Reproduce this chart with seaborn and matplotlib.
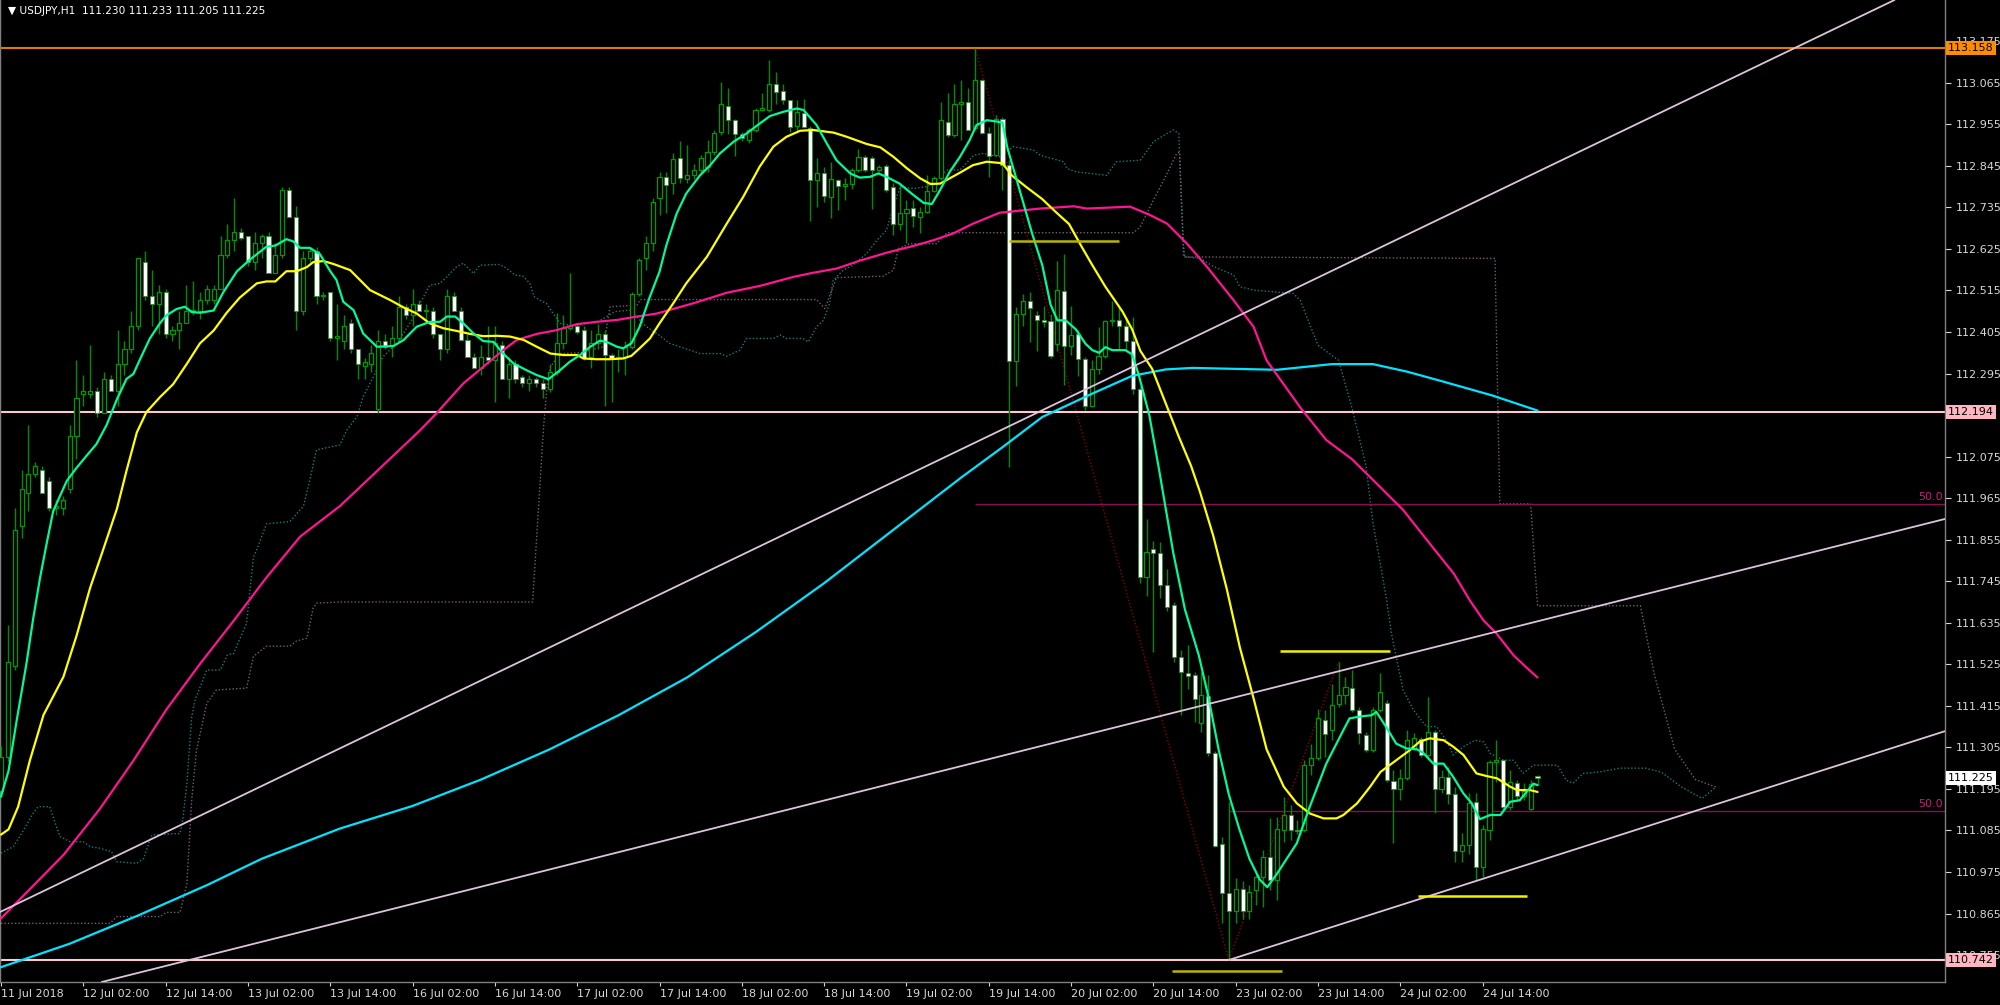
import numpy as np
import pandas as pd
import matplotlib
matplotlib.use("Agg")
import matplotlib.pyplot as plt
import matplotlib.transforms as mtransforms
import seaborn as sns

# USDJPY H1, bar 0 = 11 Jul 14:00 (one bar per trading hour)
opens = [
    111.19, 111.28, 111.52, 111.89, 111.98, 112.03, 112.04, 112.01, 111.94, 111.94,
    111.99, 112.13, 112.24, 112.24, 112.25, 112.19, 112.28, 112.25, 112.32, 112.36,
    112.42, 112.59, 112.50, 112.48, 112.51, 112.40, 112.41, 112.43, 112.46, 112.46,
    112.49, 112.49, 112.52, 112.61, 112.65, 112.67, 112.66, 112.59, 112.64, 112.66,
    112.56, 112.61, 112.78, 112.71, 112.46, 112.60, 112.62, 112.50, 112.51, 112.39,
    112.38, 112.43, 112.36, 112.315, 112.32, 112.20, 112.38, 112.37, 112.39, 112.47,
    112.45, 112.48, 112.46, 112.46, 112.40, 112.36, 112.50, 112.46, 112.385, 112.34,
    112.31, 112.34, 112.33, 112.37, 112.28, 112.32, 112.285, 112.27, 112.28, 112.27,
    112.255, 112.30, 112.375, 112.415, 112.42, 112.41, 112.34, 112.375, 112.40, 112.345,
    112.335, 112.34, 112.365, 112.505, 112.60, 112.64, 112.76, 112.815, 112.80, 112.865,
    112.81, 112.82, 112.834, 112.843, 112.882, 112.935, 113.003, 112.966, 112.93, 112.913,
    112.94, 112.993, 112.993, 113.063, 113.044, 113.019, 112.95, 112.984, 112.944, 112.807,
    112.825, 112.763, 112.807, 112.792, 112.797, 112.834, 112.869, 112.867, 112.834, 112.844,
    112.79, 112.69, 112.719, 112.734, 112.71, 112.722, 112.779, 112.812, 112.962, 112.926,
    113.01, 113.013, 112.944, 113.072, 112.931, 112.873, 112.97, 112.847, 112.327, 112.454,
    112.488, 112.45, 112.436, 112.434, 112.374, 112.514, 112.369, 112.401, 112.333, 112.209,
    112.308, 112.341, 112.434, 112.436, 112.421, 112.382, 112.253, 111.757, 111.83, 111.821,
    111.736, 111.681, 111.544, 111.502, 111.496, 111.37, 111.441, 111.291, 111.05, 110.92,
    110.872, 110.93, 110.872, 110.927, 110.962, 111.015, 110.953, 111.086, 111.126, 111.086,
    111.086, 111.258, 111.276, 111.377, 111.351, 111.419, 111.443, 111.461, 111.404, 111.337,
    111.298, 111.404, 111.423, 111.217, 111.196, 111.223, 111.302, 111.326, 111.285, 111.346,
    111.196, 111.227, 111.181, 111.031, 111.046, 111.161, 110.989, 111.086, 111.267, 111.271,
    111.148, 111.211, 111.176, 111.143, 111.23,
]
highs = [
    111.31, 111.63, 111.94, 112.04, 112.16, 112.06, 112.05, 112.02, 111.96, 111.97,
    112.16, 112.33, 112.29, 112.37, 112.26, 112.30, 112.29, 112.41, 112.38, 112.46,
    112.60, 112.62, 112.57, 112.53, 112.52, 112.42, 112.46, 112.53, 112.54, 112.51,
    112.53, 112.53, 112.66, 112.69, 112.76, 112.68, 112.66, 112.67, 112.665, 112.67,
    112.64, 112.79, 112.79, 112.74, 112.62, 112.63, 112.63, 112.51, 112.51, 112.48,
    112.45, 112.44, 112.36, 112.335, 112.37, 112.41, 112.40, 112.42, 112.50, 112.48,
    112.52, 112.49, 112.48, 112.47, 112.40, 112.52, 112.51, 112.47, 112.40, 112.35,
    112.37, 112.42, 112.42, 112.38, 112.34, 112.33, 112.29, 112.29, 112.285, 112.28,
    112.32, 112.455, 112.45, 112.56, 112.43, 112.42, 112.41, 112.425, 112.41, 112.35,
    112.36, 112.38, 112.51, 112.60, 112.66, 112.76, 112.83, 112.83, 112.878, 112.91,
    112.90, 112.85, 112.874, 112.913, 112.94, 113.068, 113.05, 112.97, 112.935, 112.945,
    112.997, 113.037, 113.125, 113.094, 113.063, 113.02, 113.019, 113.023, 112.95, 112.865,
    112.843, 112.856, 112.81, 112.812, 112.84, 112.891, 112.875, 112.87, 112.847, 112.851,
    112.80, 112.80, 112.754, 112.754, 112.737, 112.82, 112.818, 113.015, 113.037, 113.063,
    113.072, 113.05, 113.158, 113.074, 112.948, 112.979, 112.975, 112.86, 112.47, 112.506,
    112.511, 112.46, 112.473, 112.454, 112.592, 112.611, 112.473, 112.41, 112.34, 112.331,
    112.417, 112.436, 112.488, 112.473, 112.445, 112.445, 112.26, 111.909, 111.852, 111.848,
    111.777, 111.69, 111.563, 111.577, 111.505, 111.505, 111.496, 111.295, 111.068, 111.16,
    110.96, 110.95, 110.94, 110.975, 111.033, 111.117, 111.121, 111.174, 111.152, 111.112,
    111.271, 111.315, 111.408, 111.404, 111.474, 111.532, 111.492, 111.51, 111.413, 111.346,
    111.413, 111.501, 111.43, 111.245, 111.249, 111.351, 111.342, 111.333, 111.439, 111.351,
    111.245, 111.254, 111.2, 111.077, 111.183, 111.183, 111.099, 111.271, 111.324, 111.273,
    111.245, 111.218, 111.21, 111.218, 111.233,
]
lows = [
    111.17, 111.27, 111.51, 111.86, 111.93, 112.02, 111.98, 111.93, 111.92, 111.92,
    111.98, 112.07, 112.21, 112.23, 112.18, 112.19, 112.25, 112.21, 112.29, 112.35,
    112.41, 112.49, 112.42, 112.40, 112.39, 112.38, 112.36, 112.43, 112.45, 112.44,
    112.48, 112.48, 112.52, 112.60, 112.62, 112.65, 112.58, 112.57, 112.60, 112.56,
    112.56, 112.60, 112.71, 112.41, 112.45, 112.59, 112.48, 112.49, 112.38, 112.33,
    112.36, 112.35, 112.28, 112.28, 112.30, 112.19, 112.36, 112.34, 112.38, 112.44,
    112.42, 112.46, 112.44, 112.39, 112.33, 112.35, 112.46, 112.38, 112.34, 112.31,
    112.29, 112.32, 112.22, 112.28, 112.23, 112.27, 112.26, 112.25, 112.26, 112.23,
    112.245, 112.29, 112.36, 112.41, 112.40, 112.33, 112.31, 112.36, 112.21, 112.22,
    112.30, 112.29, 112.36, 112.50, 112.57, 112.62, 112.715, 112.72, 112.77, 112.80,
    112.80, 112.81, 112.825, 112.83, 112.873, 112.926, 112.93, 112.87, 112.91, 112.905,
    112.935, 112.99, 112.988, 113.01, 113.01, 112.935, 112.935, 112.944, 112.70, 112.737,
    112.75, 112.706, 112.728, 112.754, 112.785, 112.83, 112.83, 112.73, 112.83, 112.776,
    112.662, 112.675, 112.64, 112.684, 112.666, 112.719, 112.776, 112.807, 112.922, 112.922,
    112.913, 112.94, 112.94, 112.93, 112.816, 112.87, 112.78, 112.048, 112.261, 112.421,
    112.379, 112.355, 112.417, 112.336, 112.355, 112.265, 112.345, 112.289, 112.199, 112.206,
    112.294, 112.336, 112.42, 112.36, 112.355, 112.242, 111.74, 111.707, 111.558, 111.70,
    111.667, 111.53, 111.392, 111.459, 111.373, 111.345, 111.283, 111.04, 110.84, 110.742,
    110.84, 110.85, 110.85, 110.887, 110.883, 110.927, 110.90, 111.055, 111.059, 111.075,
    111.082, 111.232, 111.271, 111.28, 111.324, 111.412, 111.421, 111.40, 111.315, 111.293,
    111.293, 111.399, 111.214, 111.051, 111.165, 111.218, 111.298, 111.28, 111.28, 111.13,
    111.183, 111.156, 111.002, 111.002, 111.024, 110.953, 110.962, 111.06, 111.214, 111.143,
    111.139, 111.165, 111.165, 111.139, 111.205,
]
closes = [
    111.28, 111.53, 111.88, 111.99, 112.03, 112.05, 111.98, 111.94, 111.94, 111.96,
    112.13, 112.23, 112.25, 112.25, 112.19, 112.28, 112.25, 112.32, 112.36, 112.42,
    112.60, 112.50, 112.48, 112.51, 112.40, 112.41, 112.43, 112.46, 112.46, 112.49,
    112.52, 112.52, 112.61, 112.65, 112.67, 112.655, 112.59, 112.64, 112.66, 112.56,
    112.61, 112.78, 112.71, 112.46, 112.60, 112.62, 112.50, 112.50, 112.39, 112.39,
    112.42, 112.36, 112.32, 112.325, 112.35, 112.38, 112.365, 112.39, 112.47, 112.45,
    112.48, 112.46, 112.46, 112.40, 112.36, 112.50, 112.46, 112.385, 112.34, 112.31,
    112.34, 112.33, 112.375, 112.28, 112.32, 112.28, 112.27, 112.28, 112.27, 112.255,
    112.30, 112.375, 112.415, 112.42, 112.405, 112.335, 112.375, 112.40, 112.345, 112.335,
    112.34, 112.365, 112.505, 112.595, 112.64, 112.75, 112.815, 112.795, 112.863, 112.813,
    112.82, 112.835, 112.865, 112.882, 112.933, 113.008, 112.966, 112.929, 112.92, 112.94,
    112.993, 112.995, 113.063, 113.041, 113.019, 112.948, 112.988, 112.947, 112.807, 112.827,
    112.765, 112.809, 112.792, 112.796, 112.835, 112.869, 112.834, 112.834, 112.841, 112.782,
    112.69, 112.719, 112.732, 112.713, 112.722, 112.779, 112.812, 112.966, 112.926, 113.01,
    113.015, 112.941, 113.072, 112.932, 112.871, 112.97, 112.847, 112.327, 112.454, 112.488,
    112.469, 112.436, 112.431, 112.341, 112.516, 112.369, 112.398, 112.334, 112.209, 112.308,
    112.341, 112.434, 112.436, 112.421, 112.382, 112.253, 111.755, 111.822, 111.821, 111.734,
    111.677, 111.544, 111.504, 111.494, 111.433, 111.444, 111.29, 111.044, 110.919, 110.872,
    110.93, 110.872, 110.922, 110.962, 111.015, 110.953, 111.088, 111.126, 111.086, 111.083,
    111.258, 111.276, 111.382, 111.34, 111.417, 111.443, 111.465, 111.404, 111.342, 111.298,
    111.404, 111.452, 111.218, 111.196, 111.225, 111.324, 111.329, 111.285, 111.346, 111.196,
    111.227, 111.181, 111.031, 111.046, 111.157, 110.989, 111.088, 111.267, 111.270, 111.148,
    111.214, 111.176, 111.19, 111.207, 111.225,
]

# moving averages (bar index, price)
ma_fast_x = [0, 1.1, 2.3, 3.7, 4.7, 5.7, 6.7, 7.6, 8.6, 9.6, 11, 12.5, 13.9, 15.4, 16.9, 18.3, 19.3, 20.3,
             21.7, 23.2, 24.1, 25.6, 26.8, 27.8, 29, 31, 32.4, 34.4, 36.3, 38.7, 40, 41.6, 42.6, 43.6, 45,
             46.5, 48, 48.9, 49.9, 51.4, 52.8, 54.8, 57.2, 58.7, 60.6, 62.5, 64, 65, 66.2, 67.4, 68.9, 70.3,
             71.8, 73.2, 74.7, 76.6, 78.1, 79.8, 81.5, 82.9, 84.4, 85.9, 87.3, 88.3, 89.8, 90.7, 91.9, 93.1,
             94.6, 96, 97, 98.5, 99.9, 101.9, 103.4, 104.8, 106.8, 108.7, 110.6, 112.1, 114, 116, 117, 118.9,
             120.4, 121.8, 123.8, 125.2, 126.7, 127.9, 129.1, 131, 133, 134.5, 135.7, 136.9, 138.3, 139.8,
             141.2, 142.2, 143.7, 144.6, 146, 146.7, 147.9, 149.1, 150.3, 151.8, 153, 154, 155.2, 156.7,
             158.1, 159.1, 160.1, 161, 162, 163.9, 164.9, 165.9, 167.4, 168.8, 170.9, 172.6, 174.6, 176,
             177.5, 179, 180.5, 182, 183.5, 184.6, 186, 187, 188.9, 190.8, 193.2, 195.7, 196.6, 198.6,
             199.8, 200.5, 201.9, 203.4, 204.9, 206.4, 207.3, 208.8, 210.3, 211.7, 213.2, 214.4, 215.6,
             217.1, 218.6, 220, 221.4, 223.4, 224]
ma_fast_y = [111.175, 111.243, 111.378, 111.526, 111.647, 111.755, 111.849, 111.930, 111.971, 112.011,
             112.045, 112.078, 112.108, 112.159, 112.227, 112.281, 112.294, 112.334, 112.388, 112.429,
             112.449, 112.466, 112.472, 112.458, 112.456, 112.462, 112.510, 112.566, 112.597, 112.631,
             112.634, 112.651, 112.645, 112.628, 112.628, 112.611, 112.566, 112.543, 112.485, 112.463,
             112.401, 112.366, 112.368, 112.384, 112.419, 112.432, 112.432, 112.446, 112.446, 112.428,
             112.401, 112.381, 112.379, 112.348, 112.322, 112.304, 112.291, 112.280, 112.304, 112.326,
             112.344, 112.366, 112.382, 112.379, 112.366, 112.362, 112.375, 112.419, 112.499, 112.565,
             112.635, 112.719, 112.772, 112.820, 112.847, 112.878, 112.909, 112.931, 112.957, 112.977,
             112.988, 112.997, 112.993, 112.953, 112.904, 112.860, 112.825, 112.814, 112.816, 112.825,
             112.816, 112.798, 112.768, 112.747, 112.744, 112.781, 112.829, 112.869, 112.913, 112.953,
             112.966, 112.964, 112.960, 112.894, 112.819, 112.743, 112.667, 112.582, 112.478, 112.436,
             112.436, 112.412, 112.374, 112.357, 112.350, 112.365, 112.357, 112.357, 112.346, 112.289,
             112.185, 112.043, 111.82, 111.67, 111.55, 111.44, 111.30, 111.18, 111.09, 111.01, 110.955,
             110.935, 110.97, 110.998, 111.051, 111.148, 111.262, 111.351, 111.382, 111.388, 111.390,
             111.399, 111.360, 111.315, 111.302, 111.300, 111.291, 111.262, 111.262, 111.227, 111.183,
             111.157, 111.115, 111.126, 111.126, 111.161, 111.165, 111.209, 111.205]

ma_mid_x = [0, 1.1, 2.5, 4.2, 6.2, 9.1, 11, 13, 14.9, 16.9, 18.3, 19.8, 21.2, 23.2, 25.1, 27.1, 29, 31,
            32.9, 34.8, 37.3, 38.7, 40, 41.6, 43.1, 44.6, 45.5, 47, 48.5, 50.9, 53.8, 56.7, 58.7, 60.6,
            62.5, 64.5, 66.4, 68.4, 70.3, 72.3, 74.2, 76.2, 78.1, 80.1, 82, 84, 84.9, 86.8, 88.8, 90.7,
            91.9, 93.1, 94.6, 96, 98, 99.9, 102.9, 105.8, 108.2, 110.6, 112.6, 114.5, 116.5, 118.4, 121.4,
            123.3, 126.2, 128.2, 130.1, 132.1, 134, 135.5, 136.9, 138.3, 139.8, 141.7, 143.7, 146, 147.4,
            149.4, 151.8, 153.7, 155.7, 157.6, 159.1, 161, 163.5, 164.9, 166.1, 167.8, 169.6, 171.7, 173.5,
            174.8, 176.7, 178.7, 180.6, 182.6, 184.5, 187, 188.9, 190.8, 192.8, 194.7, 195.7, 197.7, 199.6,
            201.1, 203.4, 205.4, 206.8, 208.3, 210.3, 211.7, 213.2, 215.1, 216.6, 218.1, 220, 221, 222.9,
            224]
ma_mid_y = [111.074, 111.088, 111.148, 111.270, 111.391, 111.492, 111.600, 111.728, 111.829, 111.937,
            112.038, 112.139, 112.193, 112.233, 112.267, 112.321, 112.375, 112.409, 112.456, 112.496,
            112.534, 112.539, 112.539, 112.566, 112.566, 112.577, 112.590, 112.593, 112.585, 112.569,
            112.516, 112.490, 112.470, 112.454, 112.428, 112.415, 112.408, 112.400, 112.394, 112.395,
            112.393, 112.384, 112.366, 112.348, 112.344, 112.344, 112.335, 112.333, 112.333, 112.335,
            112.342, 112.362, 112.388, 112.428, 112.481, 112.534, 112.604, 112.692, 112.763, 112.843,
            112.896, 112.922, 112.938, 112.940, 112.933, 112.922, 112.903, 112.894, 112.869, 112.838,
            112.812, 112.797, 112.798, 112.812, 112.827, 112.847, 112.856, 112.852, 112.819, 112.790,
            112.757, 112.724, 112.691, 112.629, 112.582, 112.525, 112.459, 112.412, 112.355, 112.308,
            112.225, 112.128, 112.05, 111.981, 111.867, 111.724, 111.57, 111.435, 111.30, 111.201,
            111.157, 111.130, 111.117, 111.117, 111.126, 111.157, 111.201, 111.240, 111.271, 111.298,
            111.320, 111.329, 111.324, 111.307, 111.285, 111.236, 111.229, 111.223, 111.201, 111.192,
            111.192, 111.187]

ma_slow_x = [0, 9.1, 14.4, 19.3, 24.1, 29, 33.9, 38.7, 43.6, 49.4, 55, 61.1, 63.5, 67.4, 70.3, 73.2,
             75.2, 78.1, 81, 84, 86.8, 89.8, 92.7, 95.6, 100.9, 105.8, 110.6, 115.5, 118.4, 121.8, 125.2,
             129.1, 133, 135.9, 138.8, 141.7, 145.6, 151.5, 156.4, 158.3, 164.6, 167.5, 170, 172.9, 175.8,
             179.7, 182.6, 184.5, 189.5, 193.2, 196.9, 200.7, 204.4, 208.1, 211.8, 214.1, 216.1, 218,
             220.5, 222, 224]
ma_slow_y = [110.852, 111.020, 111.142, 111.270, 111.405, 111.526, 111.640, 111.755, 111.863, 111.944,
             112.04, 112.145, 112.19, 112.269, 112.313, 112.357, 112.384, 112.400, 112.410, 112.426,
             112.432, 112.437, 112.446, 112.454, 112.481, 112.509, 112.527, 112.551, 112.562, 112.573,
             112.594, 112.615, 112.633, 112.648, 112.666, 112.692, 112.721, 112.732, 112.738, 112.732,
             112.737, 112.715, 112.692, 112.639, 112.578, 112.489, 112.419, 112.330, 112.203, 112.119,
             112.069, 112.001, 111.934, 111.849, 111.765, 111.695, 111.642, 111.607, 111.549, 111.523,
             111.49]

ma_long_x = [0, 10, 20, 30, 38, 49.4, 60, 70, 80, 90, 100, 110, 120, 130, 140, 146, 151.8, 159.1,
             164.9, 169.8, 173.7, 186, 194, 200, 205, 210, 217.4, 224]
ma_long_y = [110.723, 110.785, 110.86, 110.94, 111.01, 111.09, 111.15, 111.22, 111.30, 111.39, 111.49,
             111.61, 111.74, 111.88, 112.02, 112.10, 112.18, 112.242, 112.289, 112.306, 112.31, 112.305,
             112.32, 112.32, 112.30, 112.275, 112.237, 112.197]

# ichimoku cloud borders (dotted, shifted ahead of price)
span_a_x = [0, 1.8, 3.3, 4.7, 5.4, 7.1, 7.9, 8.6, 10.1, 12, 13, 14.4, 16.1, 16.9, 19.8, 20.8, 21.2, 22,
            26.1, 26.5, 27.1, 27.8, 28.3, 30, 32, 33, 33.9, 35.8, 36.8, 37.3, 38.7, 42.1, 44.1, 45, 45.8,
            46, 49.4, 50.4, 51.9, 52.8, 54.3, 55.7, 57.7, 59.6, 61.1, 62.5, 64, 65, 66.4, 67.4, 68.4,
            68.9, 69.8, 72.7, 73.7, 74.9, 76.1, 77.1, 77.7, 78.5, 79.5, 80.5, 81.5, 82.9, 86.8, 89.5,
            91.7, 94.1, 95.6, 97.5, 101.9, 104.8, 105.8, 107.7, 108.7, 112.6, 113.6, 114.5, 116.9, 117.7,
            118.9, 119.9, 120.8, 121.3, 122.8, 124.2, 126.2, 127.7, 129.1, 130.1, 131.1, 133, 135, 136.9,
            137.9, 139.8, 141.8, 143.2, 145.6, 147.6, 150.5, 151.5, 154.9, 155.4, 156.8, 161.2, 162.6,
            166.1, 168, 170, 170.9, 171.7, 171.9, 172.4, 172.6, 174.8, 176.8, 179.7, 180.6, 182.6, 188.4,
            189.4, 192, 195, 197, 199, 200, 201, 202, 202.7, 203.4, 204.4, 205.9, 207.8, 209.3, 210.7,
            211.7, 213.2, 214.9, 216.1, 217.1, 219, 220.5, 221.9, 223.4, 226.9, 228.2, 229.2, 230.6,
            233.1, 236, 239.7, 242, 245, 248, 250]
span_a_y = [111.025, 111.042, 111.086, 111.131, 111.148, 111.148, 111.105, 111.069, 111.055, 111.055,
            111.042, 111.038, 111.029, 111.002, 110.998, 111.011, 111.033, 111.073, 111.077, 111.113,
            111.210, 111.386, 111.431, 111.510, 111.510, 111.550, 111.553, 111.634, 111.809, 111.829,
            111.897, 111.903, 111.944, 112.011, 112.078, 112.093, 112.106, 112.145, 112.181, 112.234,
            112.287, 112.340, 112.375, 112.428, 112.481, 112.529, 112.534, 112.551, 112.578, 112.587,
            112.569, 112.560, 112.582, 112.584, 112.574, 112.556, 112.553, 112.534, 112.499, 112.490,
            112.481, 112.454, 112.428, 112.423, 112.430, 112.459, 112.463, 112.419, 112.401, 112.375,
            112.348, 112.348, 112.341, 112.357, 112.388, 112.388, 112.397, 112.388, 112.388, 112.379,
            112.419, 112.436, 112.481, 112.542, 112.569, 112.582, 112.613, 112.648, 112.675, 112.737,
            112.790, 112.785, 112.790, 112.816, 112.834, 112.834, 112.873, 112.878, 112.869, 112.896,
            112.887, 112.873, 112.856, 112.838, 112.829, 112.820, 112.856, 112.860, 112.909, 112.931,
            112.940, 112.931, 112.834, 112.631, 112.604, 112.600, 112.578, 112.556, 112.525, 112.516,
            112.507, 112.489, 112.37, 112.33, 112.20, 112.05, 111.90, 111.80, 111.695, 111.607, 111.545,
            111.457, 111.404, 111.360, 111.360, 111.324, 111.285, 111.307, 111.324, 111.320, 111.289,
            111.271, 111.271, 111.236, 111.258, 111.258, 111.218, 111.210, 111.236, 111.240, 111.25,
            111.25, 111.24, 111.20, 111.17, 111.20]

span_b_x = [0, 15.9, 16.9, 23.2, 24.1, 26.1, 27.1, 27.8, 28.5, 30, 31.4, 35.8, 36.8, 38.7, 42.1, 43.1,
            44.6, 45.5, 46, 49.4, 77.5, 79.1, 79.6, 80.1, 81.5, 84.4, 87.8, 88.8, 92.7, 93.2, 118.9, 120.1,
            121.8, 128.6, 130.1, 130.8, 132.5, 136.4, 137.9, 165.1, 166.1, 168, 170, 171.4, 171.8, 172.4,
            217.8, 218.5, 223, 224, 239, 241, 244, 247, 250]
span_b_y = [110.839, 110.839, 110.857, 110.857, 110.868, 110.868, 110.945, 111.166, 111.298, 111.422,
            111.457, 111.462, 111.546, 111.573, 111.573, 111.587, 111.594, 111.674, 111.687, 111.690,
            111.690, 112.154, 112.260, 112.313, 112.348, 112.350, 112.366, 112.472, 112.476, 112.491,
            112.491, 112.467, 112.549, 112.553, 112.569, 112.626, 112.639, 112.639, 112.668, 112.668,
            112.684, 112.754, 112.825, 112.878, 112.882, 112.604, 112.60, 111.95, 111.95, 111.68, 111.68,
            111.50, 111.30, 111.22, 111.20]

# drawn objects
h_levels = [113.158, 112.194, 110.742]
h_colors = ["#E07B00", "#FFC8D0", "#FFC8D0"]
h_box_colors = ["#FF8C00", "#FFB6C1", "#FFB6C1"]
trend_a = [(-0.15, 110.869), (276.0, 113.284)]
trend_b = [(13.0, 110.676), (283.4, 111.910)]
trend_c = [(179.0, 110.742), (283.4, 111.348)]
fib_start = [142, 179]
fib_price = [111.950, 111.137]
zigzag_x = [142, 179, 195]
zigzag_y = [113.158, 110.742, 111.532]
seg_price = [112.646, 111.561, 110.911, 110.713]
seg_start = [147.0, 186.5, 206.5, 170.7]
seg_end = [163.0, 202.5, 222.5, 186.7]
seg_colors = ["#B8B400", "#F2F200", "#F2F200", "#B8B400"]

y_ticks = [113.175, 113.065, 112.955, 112.845, 112.735, 112.625, 112.515, 112.405, 112.295, 112.185,
           112.075, 111.965, 111.855, 111.745, 111.635, 111.525, 111.415, 111.305, 111.195, 111.085,
           110.975, 110.865, 110.755]
# 112.185 sits under the 112.194 price box and is not visible
y_tick_labels = ["113.175", "113.065", "112.955", "112.845", "112.735", "112.625", "112.515", "112.405",
                 "112.295", "", "112.075", "111.965", "111.855", "111.745", "111.635", "111.525",
                 "111.415", "111.305", "111.195", "111.085", "110.975", "110.865", "110.755"]
date_labels = ["11 Jul 2018", "12 Jul 02:00", "12 Jul 14:00", "13 Jul 02:00", "13 Jul 14:00",
               "16 Jul 02:00", "16 Jul 14:00", "17 Jul 02:00", "17 Jul 14:00", "18 Jul 02:00",
               "18 Jul 14:00", "19 Jul 02:00", "19 Jul 14:00", "20 Jul 02:00", "20 Jul 14:00",
               "23 Jul 02:00", "23 Jul 14:00", "24 Jul 02:00", "24 Jul 14:00"]
last_price = 111.225
header = "\u25BC USDJPY,H1  111.230 111.233 111.205 111.225"

sns.set_theme(style="dark", rc={"axes.facecolor": "black", "figure.facecolor": "black"})
plt.rcParams["font.family"] = ["DejaVu Sans"]

X_MIN, X_MAX = -0.146, 283.4
Y_MIN, Y_MAX = 110.6837, 113.2843
FG = "#D8D8D8"

fig = plt.figure(figsize=(20, 10.05), dpi=100)
ax = fig.add_axes([0.0, 23 / 1005, 1945 / 2000, 982 / 1005])
ax.set_facecolor("black")

df = pd.DataFrame({"o": opens, "h": highs, "l": lows, "c": closes})
df["bar"] = np.arange(len(df))
bull = df["c"] >= df["o"]

# ichimoku borders
ax.plot(span_a_x, span_a_y, color="#1C7A7A", lw=1.0, ls=(0, (1, 1.5)), zorder=1)
ax.plot(span_b_x, span_b_y, color="#7A5C6E", lw=1.0, ls=(0, (1, 1.5)), zorder=1)

# fib retracement 50% levels and zigzag
for s, p in zip(fib_start, fib_price):
    ax.hlines(p, s, X_MAX, color="#8A0F52", lw=1.0, zorder=1)
    ax.text(X_MAX - 0.3, p + 0.004, "50.0", color="#D0187F", fontsize=8, ha="right", va="bottom", zorder=6)
ax.plot(zigzag_x, zigzag_y, color="#8B0000", lw=1.0, ls=(0, (1, 1.5)), zorder=1)

# horizontal levels
for p, c in zip(h_levels, h_colors):
    ax.axhline(p, color=c, lw=1.5, zorder=2)

# candles
ax.vlines(df["bar"], df["l"], df["h"], color="#008C00", lw=1.0, zorder=3)
body_lo = np.minimum(df["o"], df["c"])
body_h = np.maximum(np.abs(df["c"] - df["o"]), 0.004)
ax.bar(df["bar"][bull], body_h[bull], bottom=body_lo[bull], width=0.6,
       color="black", edgecolor="#009A00", linewidth=0.9, zorder=3)
ax.bar(df["bar"][~bull], body_h[~bull], bottom=body_lo[~bull], width=0.6,
       color="white", edgecolor="#2E8B2E", linewidth=0.6, zorder=3)

# moving averages
for xs, ys, col in [(ma_long_x, ma_long_y, "#00E5FF"), (ma_slow_x, ma_slow_y, "#FF1493"),
                    (ma_mid_x, ma_mid_y, "#FFFF00"), (ma_fast_x, ma_fast_y, "#00FA9A")]:
    sns.lineplot(x=xs, y=ys, color=col, lw=1.6, ax=ax, legend=False, zorder=4)

# trend lines
tl_col = "#DCC4DC"
ax.axline(trend_a[0], trend_a[1], color=tl_col, lw=1.3, zorder=5)
ax.axline(trend_b[0], trend_b[1], color=tl_col, lw=1.3, zorder=5)
ax.plot([trend_c[0][0], trend_c[1][0]], [trend_c[0][1], trend_c[1][1]], color=tl_col, lw=1.3, zorder=5)

# short horizontal segments
for p, s, e, c in zip(seg_price, seg_start, seg_end, seg_colors):
    ax.hlines(p, s, e, color=c, lw=1.8, zorder=5)

ax.set_xlim(X_MIN, X_MAX)
ax.set_ylim(Y_MIN, Y_MAX)
ax.grid(False)

# axes / labels
ax.yaxis.tick_right()
ax.set_yticks(y_ticks)
ax.set_yticklabels(y_tick_labels)
ax.tick_params(axis="y", colors=FG, labelsize=8, length=4, width=0.8, pad=4, right=True, left=False,
               labelright=True, labelleft=False)
ax.set_xticks(np.arange(0, 12 * len(date_labels), 12))
ax.set_xticklabels(date_labels, ha="left")
ax.tick_params(axis="x", colors=FG, labelsize=8, length=3, width=0.8, pad=2, bottom=True)
for lab in ax.get_yticklabels() + ax.get_xticklabels():
    lab.set_color(FG)
for side in ["left", "bottom", "right"]:
    ax.spines[side].set_color("#808080")
    ax.spines[side].set_linewidth(1.0)
ax.spines["top"].set_visible(False)
ax.set_xlabel("")
ax.set_ylabel("")

# price boxes on the scale
tr = mtransforms.blended_transform_factory(ax.transAxes, ax.transData)
for p, bc in zip(h_levels, h_box_colors):
    ax.text(1.0015, p, f"{p:.3f}", transform=tr, fontsize=8, color="black", va="center", ha="left",
            bbox=dict(boxstyle="square,pad=0.18", fc=bc, ec="none"), clip_on=False, zorder=10)
ax.text(1.0015, last_price, f"{last_price:.3f}", transform=tr, fontsize=8, color="black", va="center",
        ha="left", bbox=dict(boxstyle="square,pad=0.18", fc="white", ec="none"), clip_on=False, zorder=10)

fig.text(8 / 2000, 1 - 11 / 1005, header, color="white", fontsize=7.6, va="center", ha="left")

fig.savefig("out.png", dpi=100, facecolor="black")
